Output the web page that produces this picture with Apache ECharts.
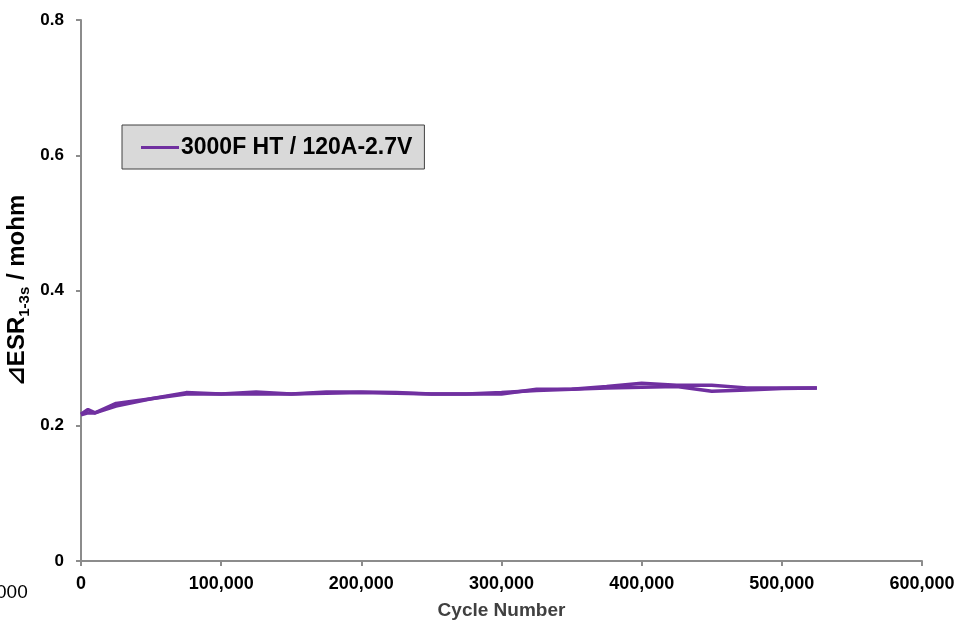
<!DOCTYPE html>
<html>
<head>
<meta charset="utf-8">
<script src="https://cdn.jsdelivr.net/npm/echarts@6/dist/echarts.min.js"></script>
<style>
  html, body { margin: 0; padding: 0; background: #fff; }
  #chart { width: 961px; height: 622px; }
</style>
</head>
<body>
<div id="chart"></div>
<script>
const seriesName = '3000F HT / 120A-2.7V'

// cycle counts
const cycles = [0, 5000, 10000, 25000, 50000, 75000, 100000, 125000, 150000, 175000, 200000,
  225000, 250000, 275000, 300000, 325000, 350000, 375000, 400000, 425000, 450000,
  475000, 500000, 525000]

// two overlapping runs, same colour, same legend entry
const runA = [0.217, 0.224, 0.219, 0.233, 0.240, 0.249, 0.247, 0.250, 0.247, 0.250, 0.250,
  0.249, 0.247, 0.247, 0.249, 0.252, 0.254, 0.258, 0.263, 0.260, 0.260,
  0.256, 0.256, 0.256]
const runB = [0.216, 0.219, 0.219, 0.229, 0.240, 0.247, 0.247, 0.247, 0.247, 0.248, 0.249,
  0.248, 0.247, 0.247, 0.247, 0.254, 0.254, 0.256, 0.257, 0.258, 0.251,
  0.253, 0.255, 0.256]

const font = '"Liberation Sans", "DejaVu Sans", sans-serif'
const purple = '#7030a0'
const axisGrey = '#8c8c8c'

const pair = (ys) => cycles.map((x, i) => [x, ys[i]])

const lineSeries = (ys) => ({
  name: seriesName,
  type: 'line',
  data: pair(ys),
  showSymbol: false,
  symbol: 'none',
  lineStyle: { color: purple, width: 3.5 },
  itemStyle: { color: purple },
  animation: false,
})

const chart = echarts.init(document.getElementById('chart'))

chart.setOption({
  animation: false,
  grid: { left: 81, right: 39, top: 20, bottom: 61, outerBoundsMode: 'none' },
  legend: {
    data: [seriesName],
    left: 122,
    top: 125,
    orient: 'horizontal',
    backgroundColor: '#d9d9d9',
    borderColor: '#404040',
    borderWidth: 1,
    borderRadius: 0,
    padding: [11, 12, 10, 19],
    icon: 'rect',
    itemWidth: 38,
    itemHeight: 3,
    itemGap: 0,
    textStyle: { fontFamily: font, fontWeight: 'bold', fontSize: 23, color: '#000', padding: [0, 0, 0, -3] },
  },
  xAxis: {
    type: 'value',
    min: 0,
    max: 600000,
    interval: 100000,
    name: 'Cycle Number',
    nameLocation: 'middle',
    nameGap: 40,
    nameMoveOverlap: false,
    nameTextStyle: { fontFamily: font, fontWeight: 'bold', fontSize: 19, color: '#404040' },
    axisLine: { show: true, lineStyle: { color: axisGrey, width: 2 } },
    axisTick: { show: true, length: 5, lineStyle: { color: axisGrey, width: 2 } },
    splitLine: { show: false },
    axisLabel: {
      margin: 14,
      fontFamily: font,
      fontWeight: 'bold',
      fontSize: 18,
      color: '#000',
      formatter: (v) => v.toLocaleString('en-US'),
    },
  },
  yAxis: {
    type: 'value',
    min: 0,
    max: 0.8,
    interval: 0.2,
    name: '{d|⊿ESR}{s|1-3s}{d| / mohm}',
    nameLocation: 'middle',
    nameRotate: 90,
    nameGap: 49,
    nameMoveOverlap: false,
    nameTextStyle: {
      rich: {
        d: { fontFamily: font, fontWeight: 'bold', fontSize: 24, color: '#000' },
        s: { fontFamily: font, fontWeight: 'bold', fontSize: 15, color: '#000', verticalAlign: 'bottom', padding: [14, 0, 0, 0] },
      },
    },
    axisLine: { show: true, lineStyle: { color: axisGrey, width: 2 } },
    axisTick: { show: true, length: 5, lineStyle: { color: axisGrey, width: 2 } },
    splitLine: { show: false },
    axisLabel: {
      margin: 17,
      fontFamily: font,
      fontWeight: 'bold',
      fontSize: 17,
      color: '#000',
      formatter: (v) => String(Math.round(v * 10) / 10),
    },
  },
  graphic: [
    {
      type: 'text',
      left: -4,
      top: 583,
      style: { text: '000', fontFamily: font, fontSize: 19, fill: '#000' },
    },
  ],
  series: [lineSeries(runA), lineSeries(runB)],
})
</script>
</body>
</html>
